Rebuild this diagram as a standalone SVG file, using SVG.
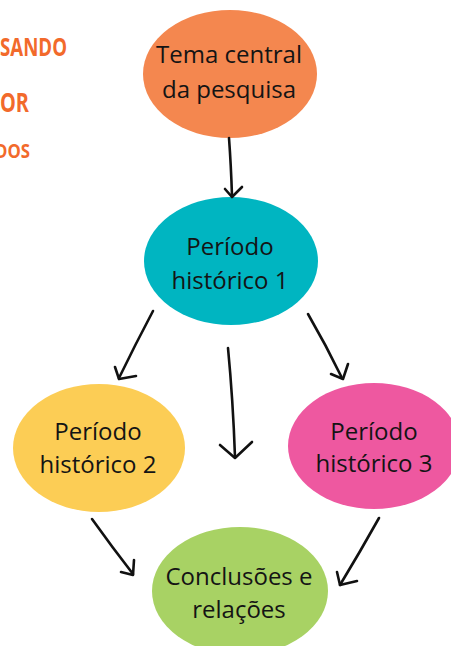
<svg xmlns="http://www.w3.org/2000/svg" width="451" height="646" viewBox="0 0 451 646">
<style>
.lbl{font-family:"Open Sans","Noto Sans","Liberation Sans",sans-serif;font-size:24px;fill:#141414;text-anchor:middle}
.side{font-family:"Open Sans","Liberation Sans",sans-serif;font-weight:bold;fill:#F26A2B}
.arr{fill:none;stroke:#111;stroke-width:2.6;stroke-linecap:round;stroke-linejoin:round}
</style>
<rect width="451" height="646" fill="#fff"/>
<g id="side-text">
<text class="side" x="0" y="56" font-size="25" textLength="67" lengthAdjust="spacingAndGlyphs">SANDO</text>
<text class="side" x="0" y="112" font-size="26" textLength="29" lengthAdjust="spacingAndGlyphs">OR</text>
<text class="side" x="-5" y="158" font-size="20" textLength="35" lengthAdjust="spacingAndGlyphs">DOS</text>
</g>
<g id="tema">
<ellipse cx="230" cy="74" rx="87" ry="64" fill="#F4874F"/>
<text class="lbl" x="229" y="63">Tema central</text>
<text class="lbl" x="229" y="98">da pesquisa</text>
</g>
<g id="periodo1">
<ellipse cx="231" cy="261" rx="87" ry="64" fill="#00B5C1"/>
<text class="lbl" x="230" y="255">Período</text>
<text class="lbl" x="230" y="289">histórico 1</text>
</g>
<g id="periodo2">
<ellipse cx="99" cy="448" rx="86" ry="64" fill="#FCCD55"/>
<text class="lbl" x="98" y="440">Período</text>
<text class="lbl" x="98" y="473">histórico 2</text>
</g>
<g id="periodo3">
<ellipse cx="374" cy="446" rx="86" ry="63" fill="#EE58A0"/>
<text class="lbl" x="374" y="440">Período</text>
<text class="lbl" x="374" y="472">histórico 3</text>
</g>
<g id="conclusoes">
<ellipse cx="240" cy="591" rx="88" ry="64" fill="#A8D264"/>
<text class="lbl" x="239" y="585">Conclusões e</text>
<text class="lbl" x="239" y="618">relações</text>
</g>
<g id="connectors">
<path class="arr" d="M229 138 Q231 165 232 196"/>
<path class="arr" d="M225 189 L232 197 L242 187"/>
<path class="arr" d="M153 311 Q135 345 119 378"/>
<path class="arr" d="M115 367 L119 379 L136 376"/>
<path class="arr" d="M228 348 Q233 400 235 457" stroke-width="3.4"/>
<path class="arr" d="M220 445 L235 458 L252 442" stroke-width="3.2"/>
<path class="arr" d="M308 314 Q326 345 342 378"/>
<path class="arr" d="M331 374 L343 379 L348 364"/>
<path class="arr" d="M92 519 Q112 547 133 574"/>
<path class="arr" d="M121 572 L133 575 L134 560"/>
<path class="arr" d="M379 518 Q360 552 340 585"/>
<path class="arr" d="M337 572 L340 585 L357 581"/>
</g>
</svg>
